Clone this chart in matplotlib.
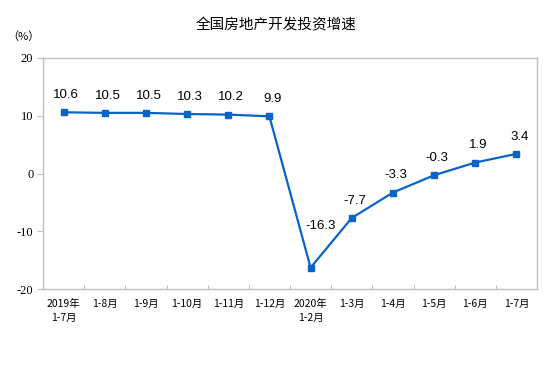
import matplotlib
matplotlib.use("Agg")
import matplotlib.pyplot as plt
import numpy as np

plt.rcParams['font.family'] = ['Noto Sans CJK SC', 'DejaVu Sans']

# data
months = ['2019年\n1-7月', '1-8月', '1-9月', '1-10月', '1-11月', '1-12月',
          '2020年\n1-2月', '1-3月', '1-4月', '1-5月', '1-6月', '1-7月']
growth = [10.6, 10.5, 10.5, 10.3, 10.2, 9.9, -16.3, -7.7, -3.3, -0.3, 1.9, 3.4]

line_col = '#0A64C8'
grid_col = '#BFBFBF'

fig = plt.figure(figsize=(5.54, 3.67), dpi=100)
ax = fig.add_axes([43/554, 1-289/367, 494/554, 231/367])

x = np.arange(len(months))
ax.plot(x, growth, color=line_col, lw=1.6, marker='s', ms=4.5,
        mec=line_col, mfc=line_col)

for xi, v in zip(x, growth):
    if v == -16.3:
        off = (7, 26)
    else:
        off = (2, 8)
    ax.annotate(f'{v:g}', (xi, v), xytext=off, textcoords='offset points',
                ha='center', va='bottom', fontsize=9.5,
                family='Liberation Sans', color='black')

ax.set_xlim(-0.5, len(months) - 0.5)
ax.set_ylim(-20, 20)
ax.set_yticks([-20, -10, 0, 10, 20])
ax.set_yticklabels(['-20', '-10', '0', '10', '20'], family='Liberation Serif',
                   fontsize=9)

ax.set_xticks(x)
ax.set_xticklabels(months, fontsize=7.5, linespacing=1.5, va='top')
ax.set_xticks(np.arange(0.5, len(months) - 1, 1), minor=True)
ax.tick_params(axis='x', which='major', length=0, pad=7)
ax.tick_params(axis='x', which='minor', direction='in', length=3,
               color=grid_col, width=0.8)
ax.tick_params(axis='y', direction='out', length=4, color=grid_col,
               width=0.8, pad=3)

for s in ax.spines.values():
    s.set_color(grid_col)
    s.set_linewidth(1.0)

fig.text(276/554, 1-25/367, '全国房地产开发投资增速', ha='center', va='center',
         fontsize=10.5)
fig.text(23/554, 1-37/367, '（%）', ha='center', va='center', fontsize=8)

fig.savefig('out.png', dpi=100)
